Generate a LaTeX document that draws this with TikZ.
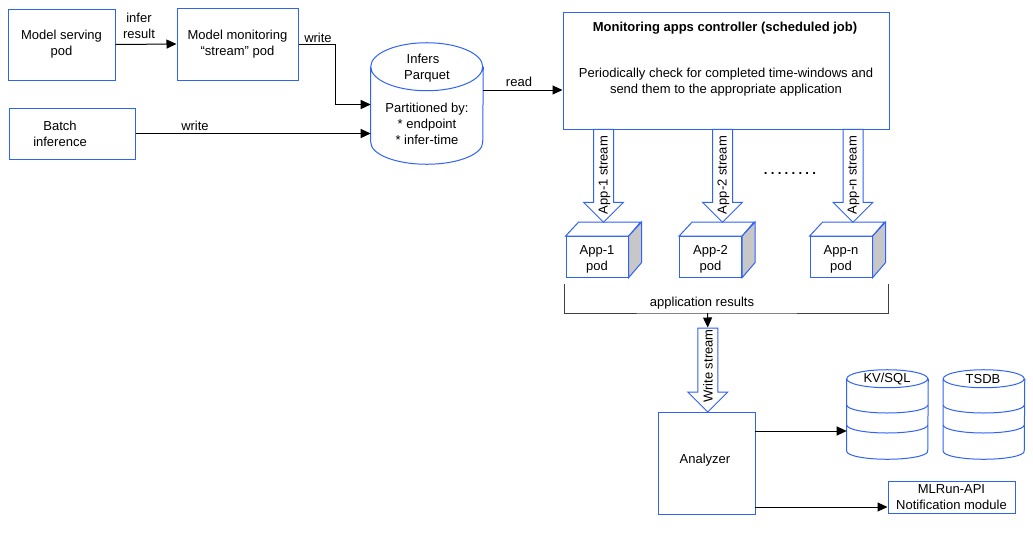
\documentclass[tikz,border=0pt]{standalone}
\usepackage{fontspec}
\setmainfont{Liberation Sans}
\usetikzlibrary{arrows.meta,shapes.arrows}
\definecolor{boxblue}{HTML}{2F62F5}

\begin{document}
\begin{tikzpicture}[x=.75pt, y=-.75pt, font=\fontsize{9.75}{12}\selectfont,
                    main box/.style={rectangle,draw=boxblue,line width=.75pt,align=center,inner sep=0pt,
                      execute at begin node={\vspace*{1.5pt}}},
                    drum/.style={rectangle,inner sep=0pt},
                    blue line/.style={draw=boxblue,line width=.75pt},
                    stream arrow/.style={single arrow,draw=boxblue,line width=.75pt,fill=white,rotate=90,shape border rotate=180,
                      inner sep=0pt,text height=9.4pt,text depth=4.85pt,minimum width=29.5pt,single arrow head extend=7.4pt},
                    link/.style={-{Triangle[length=7.5pt,width=6.75pt]},line width=.75pt},
                    tag/.style={align=center,inner sep=0pt}]
  \useasboundingbox (0,0) rectangle (1033,540);

  \node[main box,minimum width=80.25pt,minimum height=53.25pt] (serving) at (61.5,44.5) {Model serving\\pod};
  \node[main box,minimum width=90.75pt,minimum height=54pt] (monitoring) at (237.5,44) {Model monitoring\\“stream” pod};
  \node[main box,minimum width=94.5pt,minimum height=38.25pt] (batch) at (72,133.5) {Batch\hspace*{18pt}\\inference\hspace*{18pt}};
  \node[drum,minimum width=84pt,minimum height=56.25pt] (infers) at (427,104.5) {};
  \draw[blue line] (infers.north west) arc (180:360:42pt and 18pt) arc (0:180:42pt and 18pt)
    -- (infers.south west) arc (180:360:42pt and 16.5pt) -- (infers.north east);
  \node[tag] (inferstext) at (427,99.5)
    {Infers\hspace*{6pt}\\Parquet\hspace*{6pt}\\[12.5pt]Partitioned by:\\* endpoint\\* infer-time};
  \node[main box,minimum width=244.5pt,minimum height=87.75pt] (controller) at (726,70.5) {};
  \node[tag,font=\fontsize{9.75}{12}\selectfont\bfseries] (title) at (725,28.5) {Monitoring apps controller (scheduled job)};
  \node[tag] (purpose) at (726,82) {Periodically check for completed time-windows and\\send them to the appropriate  application};

  \node[main box,minimum width=46.5pt,minimum height=30.5pt] (app1) at (597,257) {};
  \node[main box,minimum width=46.5pt,minimum height=30.5pt] (app2) at (710.5,257) {};
  \node[main box,minimum width=46.5pt,minimum height=30.5pt] (appn) at (841,257) {};
  \foreach \pod in {app1,app2,appn} {
    \draw[blue line,fill=white] (\pod.north west) -- ++(13,-14) -- ++(62,0) -- (\pod.north east) -- cycle;
    \draw[blue line,fill=black!22] (\pod.north east) -- ++(13,-14) -- ++(0,40.5) -- (\pod.south east) -- cycle;
  }
  \node[tag] (app1text) at (597,259) {App-1\\pod};
  \node[tag] (app2text) at (710.5,259) {App-2\\pod};
  \node[tag] (appntext) at (841,259) {App-n\\pod};

  \node[stream arrow,minimum height=69.75pt] (stream1) at (603.5,170.75) {};
  \node[stream arrow,minimum height=69.75pt] (stream2) at (722.5,170.75) {};
  \node[stream arrow,minimum height=69.75pt] (streamn) at (853,170.75) {};
  \node[tag,rotate=90] (stream1text) at (604.5,175) {App-1 stream};
  \node[tag,rotate=90] (stream2text) at (723.5,175) {App-2 stream};
  \node[tag,rotate=90] (streamntext) at (853.5,175) {App-n stream};
  \node[tag,font=\fontsize{10}{12}\selectfont] (dots) at (790,174) {\textbf{.}\hspace{2.4pt}\textbf{.}\hspace{2.4pt}\textbf{.}\hspace{2.4pt}\textbf{.}\hspace{2.4pt}\textbf{.}\hspace{2.4pt}\textbf{.}\hspace{2.4pt}\textbf{.}\hspace{2.4pt}\textbf{.}};

  \node[tag] (results) at (702,303) {application results};
  \coordinate (resultsleft) at (564,284);
  \coordinate (resultsright) at (888,284);
  \coordinate (resultsmid) at (707.5,313);
  \draw[line width=.75pt,black!75] (resultsleft) |- (resultsmid) -| (resultsright);
  \node[stream arrow,minimum height=63pt] (writestream) at (707.75,365) {};
  \node[tag,rotate=90] (writetext) at (708,366) {Write stream};
  \draw[link] (resultsmid) -- (writestream.east);

  \node[main box,minimum width=72.75pt,minimum height=76.5pt] (analyzer) at (706.5,463) {};
  \node[tag] (analyzertext) at (705,460) {Analyzer};
  \node[drum,minimum width=60.75pt,minimum height=54pt] (kv) at (887.5,415) {};
  \node[drum,minimum width=60.75pt,minimum height=54pt] (tsdb) at (984,415) {};
  \foreach \db in {kv,tsdb} {
    \draw[blue line] (\db.north west) arc (180:360:30.375pt and 6.75pt) arc (0:180:30.375pt and 6.75pt)
      -- (\db.south west) arc (180:360:30.375pt and 6pt) -- (\db.north east);
    \draw[blue line] ([yshift=7.5pt]\db.west) arc (180:360:30.375pt and 6pt);
    \draw[blue line] ([yshift=-7.5pt]\db.west) arc (180:360:30.375pt and 6pt);
  }
  \node[tag] (kvtext) at (887,379) {KV/SQL};
  \node[tag] (tsdbtext) at (983,379) {TSDB};
  \node[main box,minimum width=95.25pt,minimum height=24pt] (notify) at (951.5,497) {MLRun-API\\Notification module};

  \draw[link] (serving.east) -- (monitoring.west);
  \node[tag] (inferresult) at (139,26) {infer\\result};
  \draw[link] (monitoring.east) -- ++(37,0) |- (infers.west);
  \node[tag] (writeone) at (318,37.5) {write};
  \draw[link] (batch.east) -- (batch.east -| infers.west);
  \node[tag] (writetwo) at (195,126) {write};
  \coordinate (infersout) at (483,90);
  \draw[link] (infersout) -- (infersout -| controller.west);
  \node[tag] (readtext) at (519,82) {read};
  \coordinate (analyzerup) at (755,431);
  \coordinate (analyzerdown) at (755,507);
  \draw[link] (analyzerup) -- (analyzerup -| kv.west);
  \draw[link] (analyzerdown) -- (analyzerdown -| notify.west);
\end{tikzpicture}
\end{document}
